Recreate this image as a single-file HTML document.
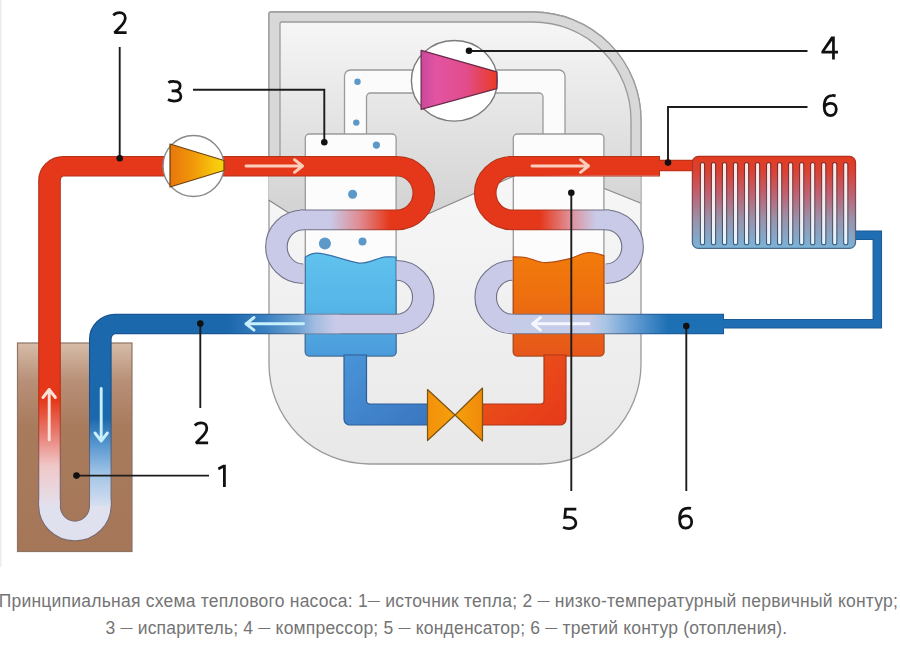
<!DOCTYPE html>
<html><head><meta charset="utf-8">
<style>
html,body{margin:0;padding:0;background:#fff;}
body{width:900px;height:653px;overflow:hidden;position:relative;font-family:"Liberation Sans",sans-serif;}
svg{position:absolute;left:0;top:0;filter:blur(0.35px);}
.cap{position:absolute;left:0;width:900px;text-align:center;color:#747474;font-size:17.5px;line-height:20px;white-space:nowrap;}
.d{font-size:12px;position:relative;top:-2px;}
</style></head><body>
<svg width="900" height="653" viewBox="0 0 900 653">
<defs>
  <linearGradient id="gUp" gradientUnits="userSpaceOnUse" x1="0" y1="22" x2="0" y2="205">
    <stop offset="0" stop-color="#f6f6f6"/><stop offset="1" stop-color="#d4d4d4"/>
  </linearGradient>
  <linearGradient id="gLow" gradientUnits="userSpaceOnUse" x1="0" y1="190" x2="0" y2="464">
    <stop offset="0" stop-color="#f6f6f6"/><stop offset="1" stop-color="#e8e8e8"/>
  </linearGradient>
  <linearGradient id="gBlueLiq" x1="0" y1="0" x2="0" y2="1">
    <stop offset="0" stop-color="#60c2ee"/><stop offset="0.5" stop-color="#56b6e8"/><stop offset="1" stop-color="#4a9ada"/>
  </linearGradient>
  <linearGradient id="gOrgLiq" x1="0" y1="0" x2="0" y2="1">
    <stop offset="0" stop-color="#f27c0a"/><stop offset="0.5" stop-color="#ec6c10"/><stop offset="1" stop-color="#e6561a"/>
  </linearGradient>
  <linearGradient id="gComp" gradientUnits="userSpaceOnUse" x1="421" y1="0" x2="497" y2="0">
    <stop offset="0" stop-color="#c8489a"/><stop offset="0.2" stop-color="#e254a2"/><stop offset="0.6" stop-color="#e24c8a"/><stop offset="1" stop-color="#ea3a24"/>
  </linearGradient>
  <linearGradient id="gPump" gradientUnits="userSpaceOnUse" x1="170" y1="0" x2="224" y2="0">
    <stop offset="0" stop-color="#e8760c"/><stop offset="0.45" stop-color="#f29a0a"/><stop offset="0.8" stop-color="#f6c40c"/><stop offset="1" stop-color="#f8d60c"/>
  </linearGradient>
  <linearGradient id="gValve" gradientUnits="userSpaceOnUse" x1="427" y1="0" x2="483" y2="0">
    <stop offset="0" stop-color="#f4900a"/><stop offset="0.5" stop-color="#f5a00c"/><stop offset="1" stop-color="#f08a0a"/>
  </linearGradient>
  <linearGradient id="gBlueLine" x1="0" y1="0" x2="1" y2="1">
    <stop offset="0" stop-color="#4a94d8"/><stop offset="1" stop-color="#3a76c0"/>
  </linearGradient>
  <linearGradient id="gRedLine" x1="0" y1="0" x2="1" y2="1">
    <stop offset="0" stop-color="#ec5a1a"/><stop offset="1" stop-color="#e6381a"/>
  </linearGradient>
  <!-- pipe gradients -->
  <linearGradient id="gGroundL" gradientUnits="userSpaceOnUse" x1="0" y1="400" x2="0" y2="510">
    <stop offset="0" stop-color="#e5381a"/><stop offset="0.3" stop-color="#e87a70"/><stop offset="0.6" stop-color="#f0c8c8"/><stop offset="1" stop-color="#e2e2f0"/>
  </linearGradient>
  <linearGradient id="gGroundR" gradientUnits="userSpaceOnUse" x1="0" y1="418" x2="0" y2="510">
    <stop offset="0" stop-color="#1c68ac"/><stop offset="0.3" stop-color="#5a98d0"/><stop offset="0.6" stop-color="#a0c4e6"/><stop offset="1" stop-color="#dde2f0"/>
  </linearGradient>
  <linearGradient id="gGround" x1="0" y1="0" x2="0" y2="1">
    <stop offset="0" stop-color="#d6bca8"/><stop offset="0.18" stop-color="#b89078"/><stop offset="0.4" stop-color="#a97b5d"/><stop offset="1" stop-color="#a57658"/>
  </linearGradient>
  <linearGradient id="gRad" x1="0" y1="0" x2="0" y2="1">
    <stop offset="0" stop-color="#e23c20"/><stop offset="0.15" stop-color="#dc4030"/><stop offset="0.4" stop-color="#c06070"/><stop offset="0.68" stop-color="#9a92aa"/><stop offset="1" stop-color="#7ab4d8"/>
  </linearGradient>
  <linearGradient id="gRadO" x1="0" y1="0" x2="0" y2="1">
    <stop offset="0" stop-color="#b03020"/><stop offset="1" stop-color="#4a6a8a"/>
  </linearGradient>
  <linearGradient id="gFin" x1="0" y1="0" x2="0" y2="1">
    <stop offset="0" stop-color="#fde6e2"/><stop offset="1" stop-color="#e6f4fc"/>
  </linearGradient>
  <linearGradient id="gFinO" x1="0" y1="0" x2="0" y2="1">
    <stop offset="0" stop-color="#7a2a2a"/><stop offset="0.5" stop-color="#6a4a5a"/><stop offset="1" stop-color="#3a5a7a"/>
  </linearGradient>
  <linearGradient id="gOutL" gradientUnits="userSpaceOnUse" x1="0" y1="400" x2="0" y2="480">
    <stop offset="0" stop-color="#b8300f"/><stop offset="1" stop-color="#7a6a72"/>
  </linearGradient>
  <linearGradient id="gOutR" gradientUnits="userSpaceOnUse" x1="0" y1="400" x2="0" y2="480">
    <stop offset="0" stop-color="#18508a"/><stop offset="1" stop-color="#7a6a72"/>
  </linearGradient>
  <linearGradient id="gEvLow" gradientUnits="userSpaceOnUse" x1="300.000" y1="0" x2="354.545" y2="0"><stop offset="0" stop-color="#c8cae8"/><stop offset="0.5" stop-color="#e08a90"/><stop offset="1" stop-color="#e5381a"/></linearGradient>
  <linearGradient id="gEvBot" gradientUnits="userSpaceOnUse" x1="207.273" y1="0" x2="304.545" y2="0"><stop offset="0" stop-color="#1c68ac"/><stop offset="0.35" stop-color="#3a80c0"/><stop offset="0.67" stop-color="#72a4d6"/><stop offset="0.81" stop-color="#a0bce0"/><stop offset="1" stop-color="#c8cae8"/></linearGradient>
  <linearGradient id="gCoLow" gradientUnits="userSpaceOnUse" x1="490.909" y1="0" x2="541.818" y2="0"><stop offset="0" stop-color="#e5381a"/><stop offset="0.5" stop-color="#e08a90"/><stop offset="1" stop-color="#c8cae8"/></linearGradient>
  <linearGradient id="gCoBot" gradientUnits="userSpaceOnUse" x1="536.364" y1="0" x2="607.273" y2="0"><stop offset="0" stop-color="#c4cce8"/><stop offset="0.2" stop-color="#a8c4e4"/><stop offset="0.45" stop-color="#78a8d8"/><stop offset="0.72" stop-color="#4a8cc8"/><stop offset="1" stop-color="#1e70b4"/></linearGradient>
  <linearGradient id="oEvBot" gradientUnits="userSpaceOnUse" x1="218.182" y1="0" x2="290.909" y2="0"><stop offset="0" stop-color="#18508a"/><stop offset="1" stop-color="#707086"/></linearGradient>
  <linearGradient id="oEvLow" gradientUnits="userSpaceOnUse" x1="304.545" y1="0" x2="350.000" y2="0"><stop offset="0" stop-color="#707086"/><stop offset="1" stop-color="#b3321a"/></linearGradient>
  <linearGradient id="oCoBot" gradientUnits="userSpaceOnUse" x1="540.909" y1="0" x2="600.000" y2="0"><stop offset="0" stop-color="#707086"/><stop offset="1" stop-color="#1a5a96"/></linearGradient>
  <linearGradient id="oCoLow" gradientUnits="userSpaceOnUse" x1="495.455" y1="0" x2="536.364" y2="0"><stop offset="0" stop-color="#b3321a"/><stop offset="1" stop-color="#707086"/></linearGradient>
</defs>

<!-- left faint edge -->
<rect x="0" y="0" width="1.5" height="567" fill="#ececec"/>

<!-- HOUSING -->
<path d="M271,12 H533 A108,108 0 0 1 641,120 V364 A100,100 0 0 1 541,464 H369 A100,100 0 0 1 269,364 V14 A2,2 0 0 1 271,12 Z" fill="url(#gLow)" stroke="#9a9a9a" stroke-width="1.3"/>
<!-- band + upper area -->
<path d="M271,12 H533 A108,108 0 0 1 641,120 V166 H269 V14 A2,2 0 0 1 271,12 Z" fill="#d8d8d8"/>
<path d="M271,12 H533 A108,108 0 0 1 641,120 V166 M269,166 V14 A2,2 0 0 1 271,12" fill="none" stroke="#9a9a9a" stroke-width="1.3"/>
<path d="M281.5,22 H533 A98,98 0 0 1 631,120 V166 H280 V23.5 A1.5,1.5 0 0 1 281.5,22 Z" fill="url(#gUp)" stroke="#9a9a9a" stroke-width="1.3"/>
<!-- medium regions below pipe level -->
<path d="M268.6,160 H306 V224 L268.6,200 Z" fill="url(#gUp)"/>
<path d="M268.6,200 L306,224" stroke="#8a8a8a" stroke-width="1.3"/>
<path d="M396,160 H514 V176 L396,228 Z" fill="url(#gUp)"/>
<path d="M396,228 L514,176" stroke="#8a8a8a" stroke-width="1.3"/>
<path d="M603,160 H640.4 V203 L603,188 Z" fill="url(#gUp)"/>
<path d="M603,188 L640.4,203" stroke="#8a8a8a" stroke-width="1.3"/>

<!-- DUCT -->
<path d="M344.5,140 V76 A6,6 0 0 1 350.5,70 H559 A6,6 0 0 1 565,76 V140 H543 V97 A4,4 0 0 0 539,93 H370.5 A4,4 0 0 0 366.5,97 V140 Z" fill="#fbfbfb" stroke="#9a9a9a" stroke-width="1.3"/>

<!-- hidden arms (behind columns) -->
<!-- COLUMNS -->
<rect x="305.3" y="134" width="90.8" height="222" rx="4" fill="#fcfcfc" stroke="#9a9a9a" stroke-width="1.3"/>
<rect x="513.3" y="134" width="90.6" height="222" rx="4" fill="#fcfcfc" stroke="#9a9a9a" stroke-width="1.3"/>
<!-- blue liquid -->
<path d="M305.3,257 C309,255 312,253 316.3,253.1 C328,253 345,261 359.1,263.1 C370,264 378,257 386,256.8 C390,256.8 393,257 396.1,257 V352 A4,4 0 0 1 392.1,356 H309.3 A4,4 0 0 1 305.3,352 Z" fill="url(#gBlueLiq)" stroke="#3c72a4" stroke-width="1.2"/>
<!-- orange liquid -->
<path d="M513.3,256.9 C518,257 522,257 525.8,257.5 C533,259 539,262.6 545.3,262.6 C555,262.6 563,260 571,258.3 C578,256 583,252.5 589.4,252.5 C595,252.5 600,254.5 603.9,255.6 V352 A4,4 0 0 1 599.9,356 H517.3 A4,4 0 0 1 513.3,352 Z" fill="url(#gOrgLiq)" stroke="#b44a14" stroke-width="1.2"/>

<!-- LIQUID LINES -->
<path d="M344,355 V419 A6,6 0 0 0 350,425 H430 V404 H370 A3.5,3.5 0 0 1 366.5,400.5 V355 Z" fill="url(#gBlueLine)" stroke="#2d5f96" stroke-width="1.2"/>
<path d="M566,355 V419 A6,6 0 0 1 560,425 H480 V404 H540.5 A3.5,3.5 0 0 0 544,400.5 V355 Z" fill="url(#gRedLine)" stroke="#b0361a" stroke-width="1.2"/>
<!-- valve -->
<path d="M427.5,389.5 L455,415 L427.5,440.5 Z M482.5,388 L455,415 L482.5,441 Z" fill="url(#gValve)" stroke="#7a5414" stroke-width="1.2" stroke-linejoin="round"/>

<!-- GROUND -->
<rect x="17.5" y="343" width="114.5" height="208.5" fill="url(#gGround)" stroke="#8e7464" stroke-width="1.2"/>

<!-- PIPES -->
<g fill="none" stroke-linecap="butt" transform="scale(1.1,1)">
  <path d="M 45,500 V 505.6 A 23.091,25.4 0 0 0 91.182,505.6 V 500" stroke="#7a6a72" stroke-width="20.6"/>
  <path d="M 45,380 V 506" stroke="url(#gOutL)" stroke-width="20.6"/>
  <path d="M 91.182,380 V 506" stroke="url(#gOutR)" stroke-width="20.6"/>
  <path d="M 45,381 V 180.3 A 12.727,14 0 0 1 57.727,166.3 H 360.909" stroke="#b3321a" stroke-width="20.6"/>
  <path d="M 91.182,381 V 339 A 13.636,15 0 0 1 104.818,324 H 360.455 A 24.364,26.8 0 0 0 360.455,270.4" stroke="url(#oEvBot)" stroke-width="20.6"/>
  <path d="M 275.727,273.7 A 24.455,26.9 0 0 1 275.727,219.9" stroke="#707086" stroke-width="20.6"/>
  <path d="M 272.727,219.9 H 360.909 A 24.364,26.8 0 0 0 360.909,166.3" stroke="url(#oEvLow)" stroke-width="20.6"/>
  <path d="M 465.909,270.4 A 24.364,26.8 0 0 0 465.909,324 H 658.182" stroke="url(#oCoBot)" stroke-width="20.6"/>
  <path d="M 550.636,273.7 A 24.455,26.9 0 0 0 550.636,219.9" stroke="#707086" stroke-width="20.6"/>
  <path d="M 554.545,219.9 H 465.455 A 24.364,26.8 0 0 1 465.455,166.3 H 468.182" stroke="url(#oCoLow)" stroke-width="20.6"/>
  <path d="M 461.818,166.3 H 600" stroke="#b3321a" stroke-width="20.6"/>
  <path d="M 45,500 V 505.6 A 23.091,25.4 0 0 0 91.182,505.6 V 500" stroke="#e0e1ef" stroke-width="18.6"/>
  <path d="M 45,379 V 506" stroke="url(#gGroundL)" stroke-width="18.6"/>
  <path d="M 91.182,379 V 506" stroke="url(#gGroundR)" stroke-width="18.6"/>
  <path d="M 45,381 V 180.3 A 12.727,14 0 0 1 57.727,166.3 H 361.818" stroke="#e5381a" stroke-width="18.6"/>
  <path d="M 91.182,381 V 339 A 13.636,15 0 0 1 104.818,324 H 272.727" stroke="#1c68ac" stroke-width="18.6"/>
  <path d="M 272.727,324 H 360.455 A 24.364,26.8 0 0 0 360.455,270.4" stroke="#c8cae8" stroke-width="18.6"/>
  <path d="M 205.455,324 H 309.091" stroke="url(#gEvBot)" stroke-width="18.6"/>
  <path d="M 275.727,273.7 A 24.455,26.9 0 0 1 275.727,219.9" stroke="#c8cae8" stroke-width="18.6"/>
  <path d="M 272.727,219.9 H 360.909 A 24.364,26.8 0 0 0 360.909,166.3" stroke="url(#gEvLow)" stroke-width="18.6"/>
  <path d="M 354.545,166.3 H 361.818" stroke="#e5381a" stroke-width="18.6"/>
  <path d="M 465.909,270.4 A 24.364,26.8 0 0 0 465.909,324 H 468.182" stroke="#c8cae8" stroke-width="18.6"/>
  <path d="M 464.545,324 H 657.273" stroke="url(#gCoBot)" stroke-width="18.6"/>
  <path d="M 550.636,273.7 A 24.455,26.9 0 0 0 550.636,219.9" stroke="#c8cae8" stroke-width="18.6"/>
  <path d="M 554.545,219.9 H 465.455 A 24.364,26.8 0 0 1 465.455,166.3 H 599.091" stroke="url(#gCoLow)" stroke-width="18.6"/>
  <path d="M 459.091,166.3 H 599.091" stroke="#e5381a" stroke-width="18.6"/>
</g>
<g fill="none" stroke-linecap="butt">
  <path d="M659,165.5 H694" stroke="#b3321a" stroke-width="11.5"/>
  <path d="M723,323.8 H877.3 V235.3 H853" stroke="#1a5a96" stroke-width="9.5" stroke-linejoin="miter"/>
  <path d="M659,165.5 H694" stroke="#e5381a" stroke-width="9.5"/>
  <path d="M723,323.8 H877.3 V235.3 H853" stroke="#1f6eb4" stroke-width="7.5" stroke-linejoin="miter"/>
</g>

<!-- RADIATOR -->
<rect x="692.4" y="156.4" width="163.1" height="92" rx="6" fill="url(#gRad)" stroke="url(#gRadO)" stroke-width="1.3"/>
<g fill="url(#gFin)" stroke="url(#gFinO)" stroke-width="1.1">
  <rect x="700.40" y="162.5" width="4.2" height="82.3" rx="2.1"/>
  <rect x="711.42" y="162.5" width="4.2" height="82.3" rx="2.1"/>
  <rect x="722.44" y="162.5" width="4.2" height="82.3" rx="2.1"/>
  <rect x="733.46" y="162.5" width="4.2" height="82.3" rx="2.1"/>
  <rect x="744.48" y="162.5" width="4.2" height="82.3" rx="2.1"/>
  <rect x="755.50" y="162.5" width="4.2" height="82.3" rx="2.1"/>
  <rect x="766.52" y="162.5" width="4.2" height="82.3" rx="2.1"/>
  <rect x="777.54" y="162.5" width="4.2" height="82.3" rx="2.1"/>
  <rect x="788.56" y="162.5" width="4.2" height="82.3" rx="2.1"/>
  <rect x="799.58" y="162.5" width="4.2" height="82.3" rx="2.1"/>
  <rect x="810.60" y="162.5" width="4.2" height="82.3" rx="2.1"/>
  <rect x="821.62" y="162.5" width="4.2" height="82.3" rx="2.1"/>
  <rect x="832.64" y="162.5" width="4.2" height="82.3" rx="2.1"/>
  <rect x="843.66" y="162.5" width="4.2" height="82.3" rx="2.1"/>
</g>

<!-- PUMP -->
<circle cx="193.5" cy="166" r="30.5" fill="#ffffff" stroke="#8a8a8a" stroke-width="1.4"/>
<path d="M170,144 L224,160.5 L224,170.5 L170,187 Z" fill="url(#gPump)" stroke="#6a4210" stroke-width="1.2" stroke-linejoin="round"/>

<!-- COMPRESSOR -->
<ellipse cx="454.4" cy="80.8" rx="43" ry="40.3" fill="#ffffff" stroke="#7a7a7a" stroke-width="1.4"/>
<path d="M421.1,50.3 L496.9,71.8 L496.9,88.6 L421.1,109.3 Z" fill="url(#gComp)" stroke="#6a2a4a" stroke-width="1.2" stroke-linejoin="round"/>

<!-- BUBBLES -->
<g fill="#5c98c8">
  <circle cx="357.5" cy="81.7" r="3.2"/>
  <circle cx="356.3" cy="122.6" r="3.2"/>
  <circle cx="376.4" cy="145.1" r="3.6"/>
  <circle cx="352.6" cy="194.2" r="4.5"/>
  <circle cx="324.9" cy="243.6" r="6"/>
  <circle cx="362.5" cy="241.4" r="4"/>
</g>

<!-- ARROWS -->
<g fill="none" stroke-width="2.9" stroke-linecap="round" stroke-linejoin="round">
  <g stroke="#fbcdbd">
    <path d="M246,166 H302.5 M294.5,159.7 L302.5,166 L294.5,172.3"/>
    <path d="M532,166 H588.5 M580.5,159.7 L588.5,166 L580.5,172.3"/>
  </g>
  <path d="M49.2,440 V389.5 M43,397.5 L49.2,389.5 L55.4,397.5" stroke="#fbe0d8"/>
  <g stroke="#c8f0fc">
    <path d="M303.5,323.8 H246 M254,317.5 L246,323.8 L254,330.1"/>
    <path d="M101.2,388.5 V441 M95,433 L101.2,441 L107.4,433"/>
  </g>
  <path d="M589,323.8 H532.5 M540.5,317.5 L532.5,323.8 L540.5,330.1" stroke="#f6f6ff"/>
</g>

<!-- LEADER LINES -->
<g stroke="#1c1c1c" stroke-width="1.9" fill="none">
  <path d="M119.7,47 V158"/>
  <path d="M193,89.8 H324.3 V142"/>
  <path d="M469,51 H807.5"/>
  <path d="M807.5,107 H668 V162.6"/>
  <path d="M571.3,192.7 V491"/>
  <path d="M686.3,326 V491"/>
  <path d="M200.3,323.6 V408"/>
  <path d="M76.5,475.6 H209"/>
</g>
<g fill="#111">
  <circle cx="119.7" cy="158.3" r="3.3"/>
  <circle cx="324.3" cy="142.2" r="3.3"/>
  <circle cx="469" cy="50.8" r="3.3"/>
  <circle cx="668" cy="162.6" r="3.3"/>
  <circle cx="571.3" cy="192.7" r="3.3"/>
  <circle cx="686.3" cy="326" r="3.3"/>
  <circle cx="200.3" cy="323.6" r="3.3"/>
  <circle cx="76.5" cy="475.6" r="3.3"/>
</g>

<!-- LABELS -->
<path d="M831.2,36.4 L834.8,36.4 L834.8,50.7 L838,50.7 L838,53.4 L834.8,53.4 L834.8,59.6 L832.1,59.6 L832.1,53.4 L821.4,53.4 L821.4,51.2 Z M832.1,40.8 L832.1,50.7 L824.8,50.7 Z" fill="#111" fill-rule="evenodd"/>
<path d="M225.8,464.7 V487.1 H223 V468 L218.7,470.2 L217.9,467.4 L223.2,464.7 Z" fill="#111"/>
<g fill="none" stroke="#111" stroke-width="2.75" stroke-linecap="butt" stroke-linejoin="miter">
  <path id="d2" d="M113.3,15.3 C115,13.4 117.2,12.6 119.6,12.6 C123.2,12.6 125.3,14.9 125.3,18 C125.3,21.3 123.4,23.8 119.9,27.2 L114.5,32.7 H126.6" stroke-linejoin="bevel"/>
  <path d="M113.3,15.3 C115,13.4 117.2,12.6 119.6,12.6 C123.2,12.6 125.3,14.9 125.3,18 C125.3,21.3 123.4,23.8 119.9,27.2 L114.5,32.7 H126.6" stroke-linejoin="bevel" transform="translate(81.5,410.2)"/>
  <path d="M168.4,82.6 C170.2,81.2 172.3,81.5 174.5,81.5 C178.2,81.5 180.2,83.4 180.2,86 C180.2,89.2 177.4,90.9 173.8,90.9 H171.6 M173.8,90.9 C178.2,90.9 180.9,93.2 180.9,96.2 C180.9,99.4 178.2,101 174.2,101 C171.6,101 169.6,100.4 168,99.5"/>
  <path d="M835.6,95.8 C834.4,95.5 833.3,95.4 832.1,95.5 C826.6,95.8 824.2,100.4 824.2,106.3 C824.2,112.2 826.4,115.5 830.3,115.5 C834,115.5 836.3,112.8 836.3,109.2 C836.3,105.8 834.2,103.3 830.7,103.3 C827.8,103.3 825.4,104.9 824.3,107.2"/>
  <path d="M835.6,95.8 C834.4,95.5 833.3,95.4 832.1,95.5 C826.6,95.8 824.2,100.4 824.2,106.3 C824.2,112.2 826.4,115.5 830.3,115.5 C834,115.5 836.3,112.8 836.3,109.2 C836.3,105.8 834.2,103.3 830.7,103.3 C827.8,103.3 825.4,104.9 824.3,107.2" transform="translate(-144.6,412.6)"/>
  <path d="M576.3,509 H565.6 L564.8,517.4 C565.9,517.1 567,517 568.3,517 C572.9,517 575.9,519.6 575.9,523.1 C575.9,526.6 573.1,528.6 569.1,528.6 C566.6,528.6 564.4,527.9 563.1,527.1"/>
</g>
</svg>
<div class="cap" id="c1" style="top:591px;left:-1.6px;letter-spacing:0.233px;">Принципиальная схема теплового насоса: 1<span class="d">—</span> источник тепла; 2 <span class="d">—</span> низко-температурный первичный контур;</div>
<div class="cap" id="c2" style="top:618px;left:-3.6px;letter-spacing:0.2px;">3 <span class="d">—</span> испаритель; 4 <span class="d">—</span> компрессор; 5 <span class="d">—</span> конденсатор; 6 <span class="d">—</span> третий контур (отопления).</div>
</body></html>
